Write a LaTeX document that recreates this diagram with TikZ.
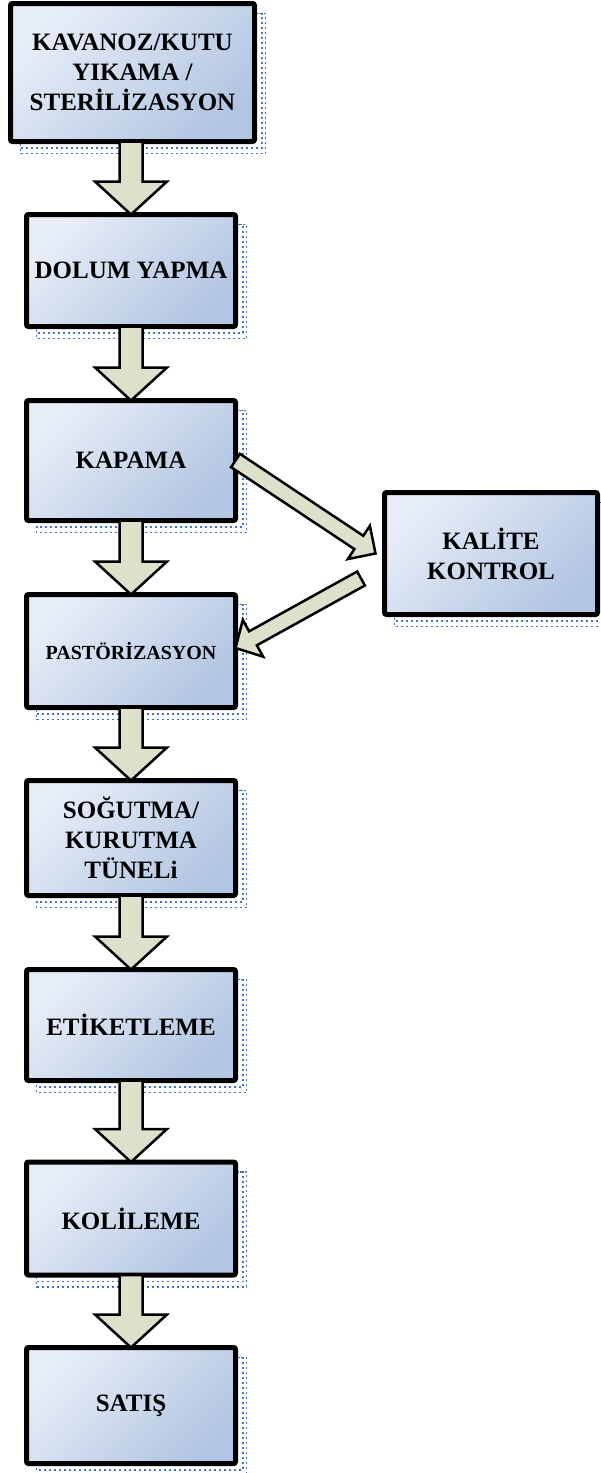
\documentclass[tikz,border=0pt]{standalone}
\usepackage{fontspec}
\setmainfont{Liberation Serif}
\usetikzlibrary{calc,backgrounds}
\definecolor{boxlight}{RGB}{231,237,247}
\definecolor{boxdark}{RGB}{178,197,226}
\definecolor{arrowfill}{RGB}{221,224,203}
\definecolor{shadowblue}{RGB}{68,114,196}
\tikzset{
  stepbox/.style={draw=black, line width=5pt, rounded corners=2pt,
    top color=boxlight, bottom color=boxdark, shading angle=45,
    inner sep=0pt, outer sep=0pt, align=center,
    font=\fontsize{25}{30}\selectfont\bfseries, text=black},
  blockarrow/.style={draw=black, line width=2.5pt, fill=arrowfill, line join=miter},
  shadowline/.style={draw=shadowblue, line width=1.8pt, dash pattern=on 2pt off 3pt},
}
% from, to, shaft half width, head half width, head length
\newcommand{\blockarr}[5]{%
  \path ($(#2)!#5!(#1)$) coordinate (hb);
  \draw[blockarrow] ($(#1)!#3!90:(#2)$) -- ($(hb)!#3!90:(#2)$) -- ($(hb)!#4!90:(#2)$)
    -- (#2) -- ($(hb)!#4!-90:(#2)$) -- ($(hb)!#3!-90:(#2)$) -- ($(#1)!#3!-90:(#2)$) -- cycle;
}
\begin{document}
\begin{tikzpicture}[x=1pt,y=-1pt]
\useasboundingbox (0,0) rectangle (600,1473);
\node[stepbox, minimum width=244pt, minimum height=138pt] (b1) at (132.5,72.5)
  {KAVANOZ/KUTU\\YIKAMA /\\STERİLİZASYON};
\node[stepbox, minimum width=209pt, minimum height=112pt] (b2) at (131,270.5) {DOLUM YAPMA};
\node[stepbox, minimum width=209pt, minimum height=120pt] (b3) at (131,460.5) {KAPAMA};
\node[stepbox, minimum width=213pt, minimum height=122pt] (kk) at (491,553.5) {KALİTE\\KONTROL};
\node[stepbox, minimum width=209pt, minimum height=113pt,
  font=\fontsize{20}{24}\selectfont\bfseries] (b4) at (131,651) {PASTÖRİZASYON};
\node[stepbox, minimum width=209pt, minimum height=115pt] (b5) at (131,838) {SOĞUTMA/\\KURUTMA\\TÜNELi};
\node[stepbox, minimum width=209pt, minimum height=111pt] (b6) at (131,1025) {ETİKETLEME};
\node[stepbox, minimum width=209pt, minimum height=113pt] (b7) at (131,1218.5) {KOLİLEME};
\node[stepbox, minimum width=209pt, minimum height=116pt] (b8) at (131,1405.5) {SATIŞ};
\begin{scope}[on background layer]
\foreach \n in {b1,b2,b3,kk,b4,b5,b6,b7,b8}{
  \draw[shadowline] ([shift={(10pt,-10pt)}]\n.north west) rectangle ([shift={(11pt,-12pt)}]\n.south east);
  \draw[shadowline] ([shift={(10pt,-10pt)}]\n.north west) rectangle ([shift={(7.5pt,-6.5pt)}]\n.south east);
}
\end{scope}
\blockarr{b1.south -| b2.north}{b2.north}{11.5pt}{36pt}{33pt}
\blockarr{b2.south}{b3.north}{11.5pt}{36pt}{33pt}
\blockarr{b3.south}{b4.north}{11.5pt}{36pt}{33pt}
\blockarr{b4.south}{b5.north}{11.5pt}{36pt}{33pt}
\blockarr{b5.south}{b6.north}{11.5pt}{36pt}{33pt}
\blockarr{b6.south}{b7.north}{11.5pt}{36pt}{33pt}
\blockarr{b7.south}{b8.north}{11.5pt}{36pt}{33pt}
\coordinate (a1s) at (b3.east);
\coordinate (a1t) at ([xshift=-9pt]kk.west);
\coordinate (a2s) at ([shift={(-23.5pt,-25pt)}]kk.west);
\coordinate (a2t) at ([yshift=3pt]b4.east);
\blockarr{a1s}{a1t}{8pt}{20pt}{20pt}
\blockarr{a2s}{a2t}{8pt}{21pt}{20pt}
\end{tikzpicture}
\end{document}
